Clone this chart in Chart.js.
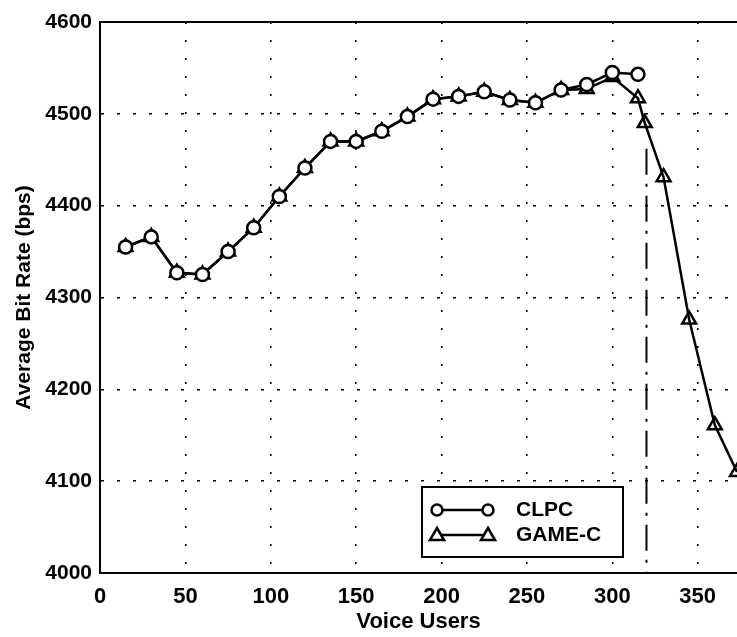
<!DOCTYPE html>
<html lang="en">
<head>
  <meta charset="UTF-8" />
  <title>Average Bit Rate vs Voice Users</title>
  <script src="https://cdn.jsdelivr.net/npm/chart.js"></script>
  <style>
    html, body { margin: 0; padding: 0; background: #fff; }
    .box { width: 737px; height: 637px; }
  </style>
</head>
<body>
  <div class="box">
    <canvas id="bitRate" width="737" height="637"></canvas>
  </div>

  <script>
    // values
    const usersClpc = [15, 30, 45, 60, 75, 90, 105, 120, 135, 150, 165, 180, 195, 210, 225, 240, 255, 270, 285, 300, 315];
    const rateClpc  = [4355, 4366, 4327, 4325, 4350, 4376, 4410, 4441, 4470, 4470, 4481, 4497, 4516, 4519, 4524, 4515, 4512, 4526, 4532, 4545, 4543];

    const usersGame = [15, 30, 45, 60, 75, 90, 105, 120, 135, 150, 165, 180, 195, 210, 225, 240, 255, 270, 285, 300, 315, 319, 330, 345, 360, 373];
    const rateGame  = [4355, 4366, 4327, 4325, 4350, 4376, 4410, 4441, 4470, 4470, 4481, 4497, 4516, 4519, 4524, 4515, 4512, 4526, 4527, 4540, 4517, 4490, 4431, 4276, 4161, 4110];

    const capacityUsers = [320, 320];
    const capacityRate  = [4462, 4000];

    const xTicks = [0, 50, 100, 150, 200, 250, 300, 350];
    const yTicks = [4000, 4100, 4200, 4300, 4400, 4500, 4600];

    const toPoints = (xs, ys) => xs.map((x, i) => ({ x: x, y: ys[i] }));
    const FONT = 'Liberation Sans, Arial, sans-serif';

    // top frame line + legend box drawn on the canvas
    const framePlugin = {
      id: 'frame',
      afterDraw(chart) {
        const ctx = chart.ctx;
        const a = chart.chartArea;
        ctx.save();
        ctx.strokeStyle = '#000';
        ctx.lineWidth = 2;
        ctx.beginPath();
        ctx.moveTo(a.left, a.top);
        ctx.lineTo(a.right, a.top);
        ctx.stroke();

        // legend
        const bx = 422, by = 487, bw = 201, bh = 70;
        ctx.fillStyle = '#fff';
        ctx.fillRect(bx, by, bw, bh);
        ctx.strokeRect(bx, by, bw, bh);

        const rows = [
          { label: chart.data.datasets[0].label, y: by + 23, shape: 'circle' },
          { label: chart.data.datasets[1].label, y: by + 48, shape: 'triangle' }
        ];
        ctx.lineWidth = 2.5;
        rows.forEach(r => {
          const x1 = bx + 15, x2 = bx + 66;
          ctx.beginPath();
          ctx.moveTo(x1, r.y);
          ctx.lineTo(x2, r.y);
          ctx.stroke();
          [x1, x2].forEach(px => {
            ctx.beginPath();
            if (r.shape === 'circle') {
              ctx.arc(px, r.y, 5.5, 0, Math.PI * 2);
            } else {
              ctx.moveTo(px, r.y - 7);
              ctx.lineTo(px + 7, r.y + 5);
              ctx.lineTo(px - 7, r.y + 5);
              ctx.closePath();
            }
            ctx.fillStyle = '#fff';
            ctx.fill();
            ctx.stroke();
          });
          ctx.fillStyle = '#000';
          ctx.font = 'bold 21px ' + FONT;
          ctx.textBaseline = 'middle';
          ctx.textAlign = 'left';
          ctx.fillText(r.label, bx + 94, r.y);
        });
        ctx.restore();
      }
    };

    new Chart(document.getElementById('bitRate'), {
      type: 'scatter',
      data: {
        datasets: [
          {
            label: 'CLPC',
            data: toPoints(usersClpc, rateClpc),
            showLine: true,
            borderColor: '#000',
            backgroundColor: '#fff',
            borderWidth: 2.5,
            pointStyle: 'circle',
            pointRadius: 6.5,
            pointBorderWidth: 2.5,
            pointBackgroundColor: '#fff',
            pointBorderColor: '#000'
          },
          {
            label: 'GAME-C',
            data: toPoints(usersGame, rateGame),
            showLine: true,
            borderColor: '#000',
            backgroundColor: '#fff',
            borderWidth: 2.5,
            pointStyle: 'triangle',
            pointRadius: 8,
            pointBorderWidth: 2.5,
            pointBackgroundColor: 'rgba(255,255,255,0)',
            pointBorderColor: '#000'
          },
          {
            label: 'capacity',
            data: toPoints(capacityUsers, capacityRate),
            showLine: true,
            borderColor: '#000',
            borderWidth: 2,
            borderDash: [26, 9, 3, 9],
            pointRadius: 0
          }
        ]
      },
      options: {
        responsive: false,
        animation: false,
        layout: { autoPadding: false, padding: { top: 22, right: 0, left: 0, bottom: 0 } },
        plugins: {
          legend: { display: false },
          tooltip: { enabled: false }
        },
        scales: {
          x: {
            type: 'linear',
            min: 0,
            max: 373,
            afterBuildTicks: s => { s.ticks = xTicks.map(v => ({ value: v })); },
            afterFit: s => { s.height = 64; s.paddingRight = 0; s.paddingLeft = 0; },
            grid: { color: '#000', lineWidth: 1.6, drawTicks: false },
            border: { display: true, color: '#000', width: 2, dash: [2, 16] },
            ticks: {
              color: '#000',
              padding: 11,
              maxRotation: 0,
              callback: v => String(v),
              font: { family: FONT, size: 22, weight: 'bold' }
            },
            title: {
              display: true,
              text: 'Voice Users',
              color: '#000',
              padding: { top: 0, bottom: 2 },
              font: { family: FONT, size: 22, weight: 'bold' }
            }
          },
          y: {
            min: 4000,
            max: 4600,
            afterBuildTicks: s => { s.ticks = yTicks.map(v => ({ value: v })); },
            afterFit: s => { s.width = 100; },
            grid: { color: '#000', lineWidth: 1.6, drawTicks: false },
            border: { display: true, color: '#000', width: 2, dash: [3, 13] },
            ticks: {
              color: '#000',
              padding: 8,
              callback: v => String(v),
              font: { family: FONT, size: 21, weight: 'bold' }
            },
            title: {
              display: true,
              text: 'Average Bit Rate (bps)',
              color: '#000',
              padding: { top: 12, bottom: 0 },
              font: { family: FONT, size: 21, weight: 'bold' }
            }
          }
        }
      },
      plugins: [framePlugin]
    });
  </script>
</body>
</html>
